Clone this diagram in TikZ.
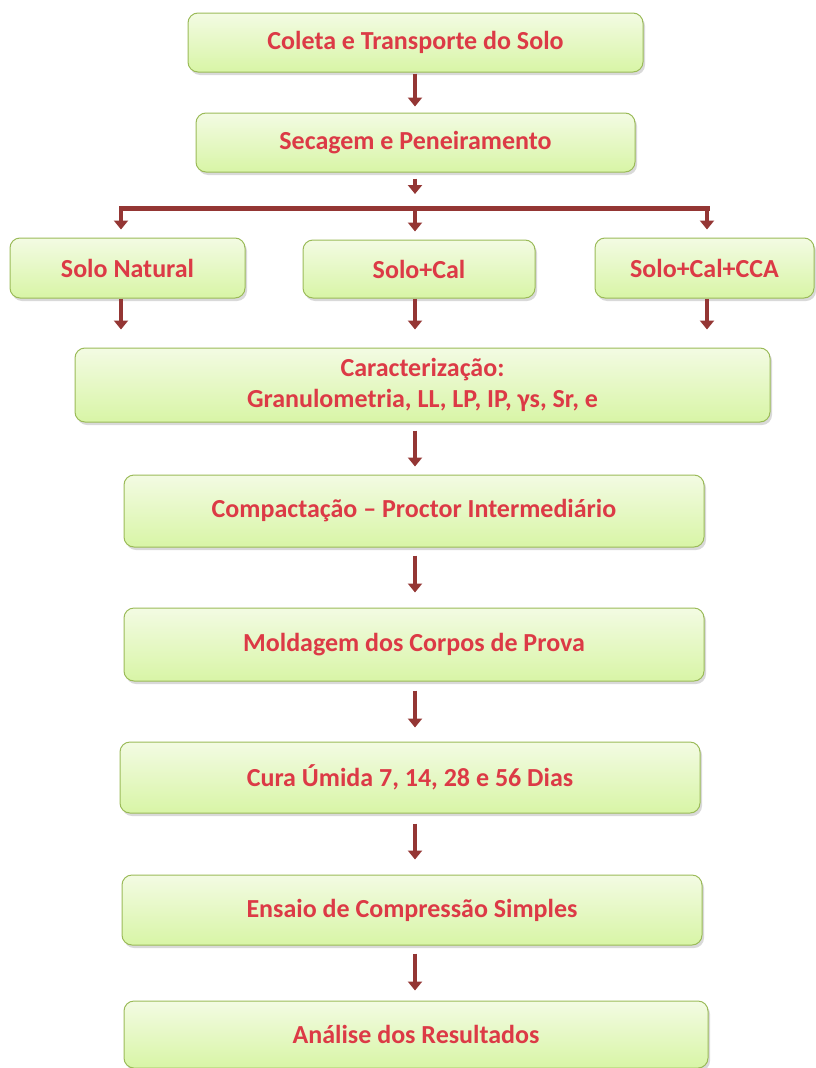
\documentclass[tikz,border=0pt]{standalone}
\usepackage{fontspec}
\setmainfont{Carlito}
\usetikzlibrary{arrows.meta,shadows,calc}
\definecolor{boxtop}{HTML}{F3FBE3}
\definecolor{boxbot}{HTML}{D8F5A6}
\definecolor{boxline}{HTML}{9BBB59}
\definecolor{txtred}{HTML}{DC3A46}
\definecolor{arrred}{HTML}{943634}
\begin{document}
\begin{tikzpicture}[x=1pt,y=-1pt,
  card/.style={draw=boxline, line width=1pt, rounded corners=10pt,
    top color=boxtop, bottom color=boxbot,
    drop shadow={shadow xshift=2pt, shadow yshift=-3pt, opacity=0.3},
    font=\fontsize{26}{31}\selectfont\bfseries, text=txtred,
    align=center, inner sep=0pt, anchor=center},
  arr/.style={draw=arrred, line width=4.5pt, -{Triangle[width=14pt,length=9pt]}},
  bar/.style={draw=arrred, line width=5pt, line cap=rect}
]
\useasboundingbox (0,0) rectangle (815,1068);

\node[card, minimum width=455pt, minimum height=59pt] (n1) at (415.5,42.5) {Coleta e Transporte do Solo};
\node[card, minimum width=439pt, minimum height=59pt] (n2) at (415.5,142.5) {Secagem e Peneiramento};
\node[card, minimum width=235pt, minimum height=60pt] (n3a) at (127.5,268) {Solo Natural};
\node[card, minimum width=232pt, minimum height=58pt] (n3b) at (419,269) {Solo+Cal};
\node[card, minimum width=219pt, minimum height=60pt] (n3c) at (704.5,268) {Solo+Cal+CCA};
\node[card, minimum width=695pt, minimum height=74pt] (n4) at (422.5,385) {Caracterização:\\Granulometria, LL, LP, IP, γs, Sr, e};
\node[card, minimum width=580pt, minimum height=72pt] (n5) at (414,511) {Compactação – Proctor Intermediário};
\node[card, minimum width=580pt, minimum height=73pt] (n6) at (414,644.5) {Moldagem dos Corpos de Prova};
\node[card, minimum width=580pt, minimum height=71pt] (n7) at (410,777.5) {Cura Úmida 7, 14, 28 e 56 Dias};
\node[card, minimum width=580pt, minimum height=70pt] (n8) at (412,910) {Ensaio de Compressão Simples};
\node[card, minimum width=584pt, minimum height=67pt] (n9) at (416,1034.5) {Análise dos Resultados};

\coordinate (sp) at (415,0);
\coordinate (bL) at (121,208);
\coordinate (bM) at (415,208);
\coordinate (bR) at (707,208);

\draw[arr, shorten <=1pt, shorten >=6pt] (n1.south -| sp) -- (n2.north -| sp);
\draw[arr, shorten <=6pt, shorten >=14pt] (n2.south -| sp) -- (bM);
\draw[bar] (bL) -- (bR);
\draw[arr, shorten >=8pt] (bL) -- (n3a.north -| bL);
\draw[arr, shorten >=8pt] (bM) -- (n3b.north -| bM);
\draw[arr, shorten >=8pt] (bR) -- (n3c.north -| bR);
\draw[arr, shorten >=18pt] (n3a.south -| bL) -- (n4.north -| bL);
\draw[arr, shorten >=18pt] (n3b.south -| bM) -- (n4.north -| bM);
\draw[arr, shorten >=18pt] (n3c.south -| bR) -- (n4.north -| bR);
\draw[arr, shorten <=8pt, shorten >=8pt] (n4.south -| sp) -- (n5.north -| sp);
\draw[arr, shorten <=8pt, shorten >=15pt] (n5.south -| sp) -- (n6.north -| sp);
\draw[arr, shorten <=9pt, shorten >=14pt] (n6.south -| sp) -- (n7.north -| sp);
\draw[arr, shorten <=10pt, shorten >=15pt] (n7.south -| sp) -- (n8.north -| sp);
\draw[arr, shorten <=8pt, shorten >=10pt] (n8.south -| sp) -- (n9.north -| sp);
\end{tikzpicture}
\end{document}
